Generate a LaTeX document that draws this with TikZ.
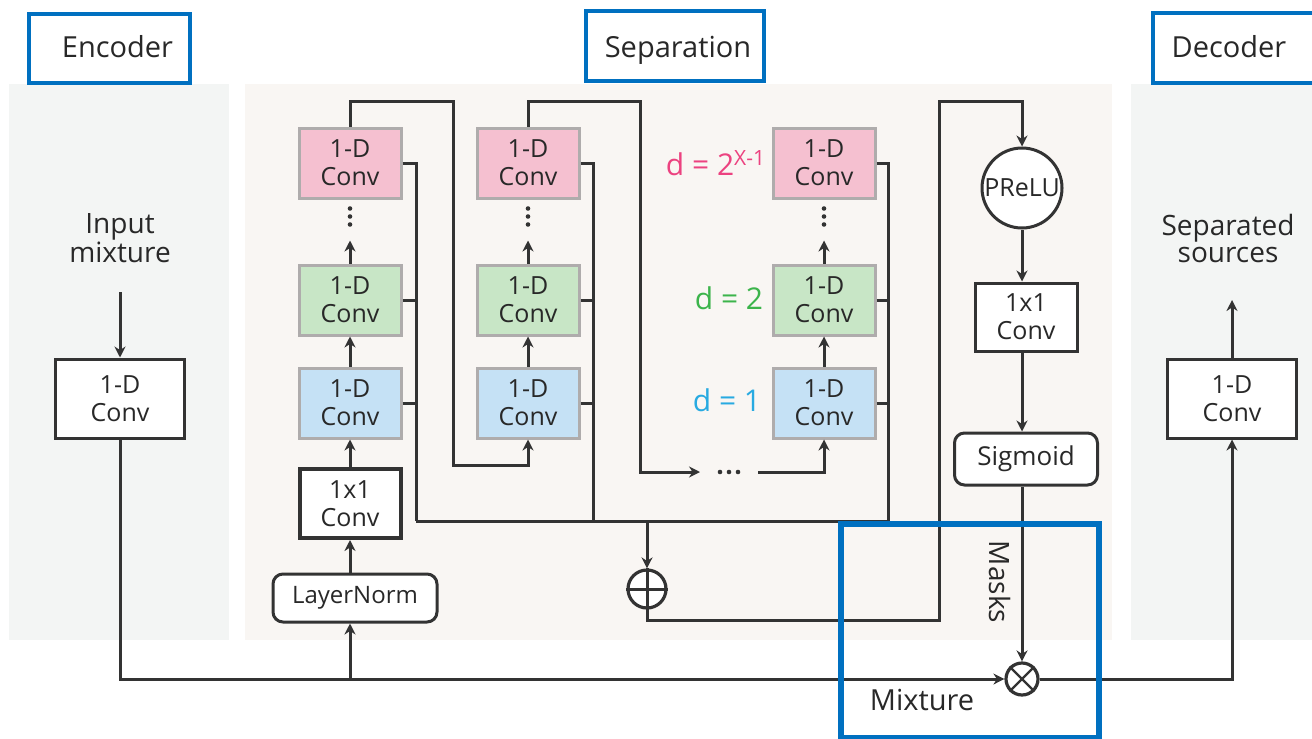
\documentclass[tikz,border=0pt]{standalone}
\usepackage{fontspec}
\setmainfont{Open Sans}
\usetikzlibrary{arrows.meta,calc}
\definecolor{encbg}{RGB}{243,245,244}
\definecolor{sepbg}{RGB}{249,246,243}
\definecolor{pinkf}{RGB}{245,192,208}
\definecolor{greenf}{RGB}{200,230,198}
\definecolor{bluef}{RGB}{197,225,245}
\definecolor{gb}{RGB}{175,172,172}
\definecolor{pinkt}{RGB}{236,66,128}
\definecolor{greent}{RGB}{60,180,75}
\definecolor{bluet}{RGB}{40,170,225}
\definecolor{frame}{RGB}{0,112,192}
\definecolor{lc}{RGB}{51,51,51}
\definecolor{tc}{RGB}{40,40,40}
\tikzset{
  ln/.style={draw=lc, line width=1.5pt},
  arr/.style={ln, -{Stealth[length=5.5pt,width=5.5pt]}},
  convbox/.style={draw=gb, line width=1.5pt, minimum width=51pt, minimum height=35pt, inner sep=0pt, align=center, text=tc, font=\fontsize{12.5}{14}\selectfont},
  whitebox/.style={draw=lc, fill=white, line width=1.5pt, inner sep=0pt, align=center, text=tc, font=\fontsize{12.5}{14}\selectfont},
  roundbox/.style={whitebox, rounded corners=5pt},
  framebox/.style={draw=frame, line width=1.8pt, fill=white, inner sep=0pt, text=tc, text depth=3pt, font=\fontsize{14.5}{16}\selectfont},
  plain/.style={text=tc, align=center, inner sep=0pt},
  dlab/.style={inner sep=0pt, font=\fontsize{15}{16}\selectfont},
  dotc/.style={fill=lc, draw=none}
}
\begin{document}
\begin{tikzpicture}[x=0.5pt,y=-0.5pt]
\useasboundingbox (0,0) rectangle (1312,739);
% panels
\fill[encbg] (9,84) rectangle (229,640);
\fill[sepbg] (245,84) rectangle (1112,640);
\fill[encbg] (1131,84) rectangle (1330,640);
% title boxes
\node[framebox, text height=11.5pt, minimum width=80.5pt, minimum height=34.5pt] (encl) at (109.5,48.5) {\hspace{8pt}Encoder};
\node[framebox, text height=14pt, minimum width=89pt, minimum height=35pt] (sepl) at (675,46) {\hspace{3pt}Separation};
\node[framebox, text height=12pt, minimum width=88pt, minimum height=35pt] (decl) at (1241,48) {Decoder\kern12pt};
% encoder
\node[plain, font=\fontsize{14}{13.5}\selectfont] (inmix) at (120,238) {Input\\mixture};
\coordinate (inTop) at (120,292);
\node[whitebox, minimum width=64.5pt, minimum height=39.5pt] (enc) at (120,398.5) {1-D\\Conv};
% decoder
\node[plain, font=\fontsize{14}{13.5}\selectfont] (sepsrc) at (1228,238) {Separated\\sources};
\coordinate (outTop) at (1232,300);
\node[whitebox, minimum width=64.5pt, minimum height=39.5pt] (dec) at (1232,398.5) {1-D\\Conv};
% column 1
\node[convbox, fill=bluef] (c1b) at (350,403) {1-D\\Conv};
\node[convbox, fill=greenf] (c1g) at (350,300) {1-D\\Conv};
\node[convbox, fill=pinkf] (c1p) at (350,163) {1-D\\Conv};
% column 2
\node[convbox, fill=bluef] (c2b) at (528,403) {1-D\\Conv};
\node[convbox, fill=greenf] (c2g) at (528,300) {1-D\\Conv};
\node[convbox, fill=pinkf] (c2p) at (528,163) {1-D\\Conv};
% column 3
\node[convbox, fill=bluef] (c3b) at (824,403) {1-D\\Conv};
\node[convbox, fill=greenf] (c3g) at (824,300) {1-D\\Conv};
\node[convbox, fill=pinkf] (c3p) at (824,163) {1-D\\Conv};
% d labels
\node[dlab, text=pinkt] (dp) at (716,163) {d = 2\textsuperscript{X-1}};
\node[dlab, text=greent] (dg) at (729,298) {d = 2};
\node[dlab, text=bluet] (db) at (727,400) {d = 1};
% bottleneck
\node[whitebox, line width=2pt, minimum width=50.5pt, minimum height=34.5pt] (c1x1) at (350,503.5) {1x1\\Conv};
\node[roundbox, minimum width=82pt, minimum height=24pt, font=\fontsize{12}{14}\selectfont] (lnorm) at (355,598) {LayerNorm};
% right branch
\node[circle, draw=lc, fill=white, line width=1.5pt, minimum size=40pt, inner sep=0pt, text=tc, font=\fontsize{12.5}{14}\selectfont] (prelu) at (1022,188) {PReLU};
\node[whitebox, minimum width=51pt, minimum height=34pt] (r1x1) at (1026,317) {1x1\\Conv};
\node[roundbox, minimum width=71.5pt, minimum height=26pt, font=\fontsize{13}{14}\selectfont] (sig) at (1026,459) {Sigmoid};
% sum
\node[circle, draw=lc, fill=white, line width=1.6pt, minimum size=19pt, inner sep=0pt] (plus) at (647,589) {};
\draw[ln] (plus.north) -- (plus.south);
\draw[ln] (plus.west) -- (plus.east);
\node[circle, draw=lc, fill=white, line width=1.6pt, minimum size=16pt, inner sep=0pt] (ot) at (1022,679) {};
\draw[ln, line width=1.2pt] (ot.north west) -- (ot.south east);
\draw[ln, line width=1.2pt] (ot.north east) -- (ot.south west);
% column arrows
\foreach \c in {1,2,3}{
  \draw[arr] (c\c g.north) -- ++(0,-23);
  \fill[dotc] ($(c\c g.north)+(0,-55)$) circle (2.3);
  \fill[dotc] ($(c\c g.north)+(0,-47)$) circle (2.3);
  \fill[dotc] ($(c\c g.north)+(0,-39)$) circle (2.3);
  \draw[arr] (c\c b.north) -- (c\c g.south);
}
\draw[arr] (c1x1.north) -- (c1b.south);
\draw[arr] (c1x1 |- lnorm.north) -- (c1x1.south);
% skip connections
\coordinate (sk1) at (416,521);
\coordinate (sk2) at (593,521);
\coordinate (sk3) at (888,521);
\draw[ln] (c1p.east) -| (sk1);
\draw[ln] (c1g.east) -- (c1g.east -| sk1);
\draw[ln] (c1b.east) -- (c1b.east -| sk1);
\draw[ln] (c2p.east) -| (sk2);
\draw[ln] (c2g.east) -- (c2g.east -| sk2);
\draw[ln] (c2b.east) -- (c2b.east -| sk2);
\draw[ln] (c3p.east) -| (sk3);
\draw[ln] (c3g.east) -- (c3g.east -| sk3);
\draw[ln] (c3b.east) -- (c3b.east -| sk3);
\draw[ln] (sk1) -- (sk3);
\draw[arr] (plus.north |- sk1) -- (plus.north);
% chain between columns
\draw[arr] (c1p.north) |- (453,101) |- (c2b.south |- 0,465) -- (c2b.south);
\coordinate (hd) at (729,472);
\draw[arr] (c2p.north) |- (640,101) |- (700,472);
\fill[dotc] ($(hd)+(-9,0)$) circle (2.3);
\fill[dotc] (hd) circle (2.3);
\fill[dotc] ($(hd)+(9,0)$) circle (2.3);
\draw[arr] (758,472) -| (c3b.south);
% to mask estimation
\draw[arr] (plus.south) |- (939,620) |- (prelu.north |- 0,101) -- (prelu.north);
\draw[arr] (prelu.south) -- (prelu.south |- r1x1.north);
\draw[arr] (prelu.south |- r1x1.south) -- (prelu.south |- sig.north);
\draw[arr] (prelu.south |- sig.south) -- (ot.north);
\node[plain, rotate=-90, font=\fontsize{14}{16}\selectfont] (masks) at (1000,582) {Masks};
% mixture path
\draw[arr] (inTop) -- (enc.north);
\draw[arr] (enc.south) |- (ot.west);
\draw[arr] (c1x1 |- ot.west) -- (c1x1 |- lnorm.south);
\draw[arr] (ot.east) -| (dec.south);
\draw[arr] (dec.north) -- (outTop);
% mixture frame
\node[draw=frame, line width=2.75pt, minimum width=129pt, minimum height=107pt, inner sep=0pt] (mixbox) at (970,631) {};
\node[plain, font=\fontsize{14.5}{16}\selectfont] (mixl) at (922,700) {Mixture};
\end{tikzpicture}
\end{document}
